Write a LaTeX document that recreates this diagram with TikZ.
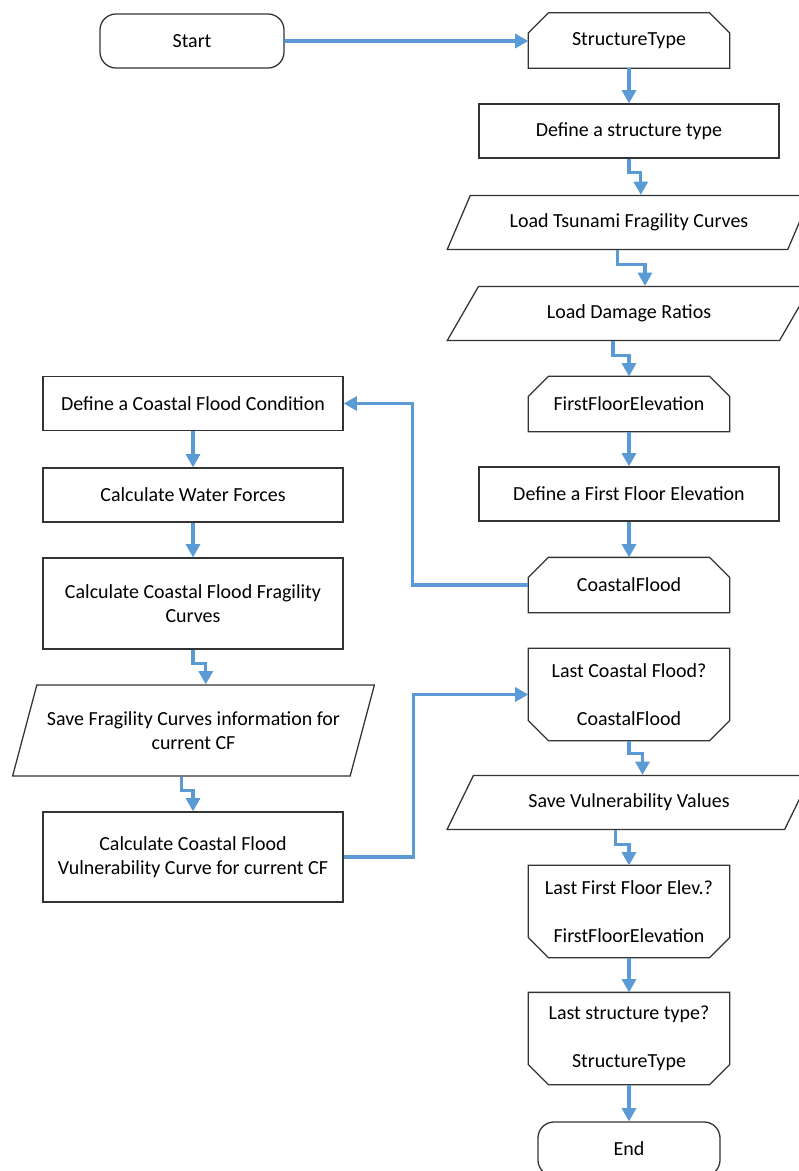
\documentclass[tikz,border=0pt]{standalone}
\usepackage{fontspec}
\setmainfont{Carlito}
\usetikzlibrary{arrows.meta,shapes.geometric}
\definecolor{flowblue}{RGB}{91,155,213}

\begin{document}
\begin{tikzpicture}[x=0.025cm,y=-0.025cm,
    every node/.style={font=\fontsize{14.2}{17}\selectfont,align=center,draw=black!80,line width=0.9pt,fill=white},
    edge/.style={draw=black!80,line width=0.9pt},
    term/.style={rectangle,rounded corners=0.4cm,minimum width=4.6cm,minimum height=1.35cm},
    proc/.style={rectangle,minimum width=7.5cm,minimum height=1.35cm},
    loopbeg/.style={rectangle,draw=none,minimum width=5cm,minimum height=1.35cm},
    loopend/.style={rectangle,draw=none,minimum width=5cm,minimum height=2.275cm},
    io/.style={trapezium,trapezium stretches=true,trapezium left angle=56,trapezium right angle=124,minimum width=9.1cm,minimum height=1.35cm},
    flow/.style={draw=flowblue,line width=2.2pt,-{Triangle[length=3.3mm,width=3.5mm]}}]

  \useasboundingbox (0,0) rectangle (799,1171);

  % loop box helpers
  \newcommand{\chamtop}[1]{\draw[edge] ([xshift=0.5cm]#1.north west) -- ([xshift=-0.5cm]#1.north east) -- ([yshift=-0.5cm]#1.north east) -- (#1.south east) -- (#1.south west) -- ([yshift=-0.5cm]#1.north west) -- cycle;}
  \newcommand{\chambot}[1]{\draw[edge] (#1.north west) -- (#1.north east) -- ([yshift=0.5cm]#1.south east) -- ([xshift=-0.5cm]#1.south east) -- ([xshift=0.5cm]#1.south west) -- ([yshift=0.5cm]#1.south west) -- cycle;}

  % right column
  \node[term]    (start)   at (192,41)     {Start};
  \node[loopbeg] (stype)   at (629,40.5)   {StructureType};
  \node[proc]    (defst)   at (629,131)    {Define a structure type};
  \node[io]      (ltfc)    at (629,222.5)  {Load Tsunami Fragility Curves};
  \node[io]      (ldr)     at (629,313.5)  {Load Damage Ratios};
  \node[loopbeg] (ffe)     at (629,404)    {FirstFloorElevation};
  \node[proc]    (defffe)  at (629,494)    {Define a First Floor Elevation};
  \node[loopbeg] (cflood)  at (629,585)    {CoastalFlood};
  \node[loopend] (lastcf)  at (629,694.5)  {Last Coastal Flood?\\[17pt]CoastalFlood};
  \node[io]      (savevv)  at (629,802.5)  {Save Vulnerability Values};
  \node[loopend] (lastffe) at (629,911.5)  {Last First Floor Elev.?\\[17pt]FirstFloorElevation};
  \node[loopend] (lastst)  at (629,1038.5) {Last structure type?\\[17pt]StructureType};
  \node[term,minimum width=4.55cm] (stop) at (629,1149) {End};
  \chamtop{stype} \chamtop{ffe} \chamtop{cflood}
  \chambot{lastcf} \chambot{lastffe} \chambot{lastst}

  % left column
  \node[proc] (defcf)  at (193,403.5) {Define a Coastal Flood Condition};
  \node[proc] (wforce) at (193,495)   {Calculate Water Forces};
  \node[proc,minimum height=2.275cm] (cffc) at (193,603.5) {Calculate Coastal Flood Fragility\\Curves};
  \node[io,trapezium left angle=63.7,trapezium right angle=116.3,minimum width=9.075cm,minimum height=2.275cm] (savefc) at (193.5,730.5) {Save Fragility Curves information for\\current CF};
  \node[proc,minimum height=2.25cm] (cfvc) at (193,857) {Calculate Coastal Flood\\Vulnerability Curve for current CF};

  % straight arrows
  \draw[flow] (start) -- (stype.west |- start);
  \foreach \a/\b in {stype/defst,ffe/defffe,defffe/cflood,lastffe/lastst,lastst/stop,defcf/wforce,wforce/cffc}
    \draw[flow] (\a) -- (\b);

  % jogged arrows
  \draw[flow] (defst.south) -- ++(0,14) -| (ltfc.top side);
  \draw[flow] (ltfc.bottom side) -- ++(0,14) -| (ldr.top side);
  \draw[flow] (ldr.bottom side) -- ++(0,14) -| (ffe.north);
  \draw[flow] (cffc.south) -- ++(0,14) -| (savefc.top side);
  \draw[flow] (savefc.bottom side) -- ++(0,14) -| (cfvc.north);
  \draw[flow] (lastcf.south) -- ++(0,13) -| (savevv.top side);
  \draw[flow] (savevv.bottom side) -- ++(0,14) -| (lastffe.north);

  % loop links
  \draw[flow] (cflood.west) -- ++(-116,0) |- (defcf.east);
  \draw[flow] (cfvc.east) -- ++(70,0) |- (lastcf.west);
\end{tikzpicture}
\end{document}
